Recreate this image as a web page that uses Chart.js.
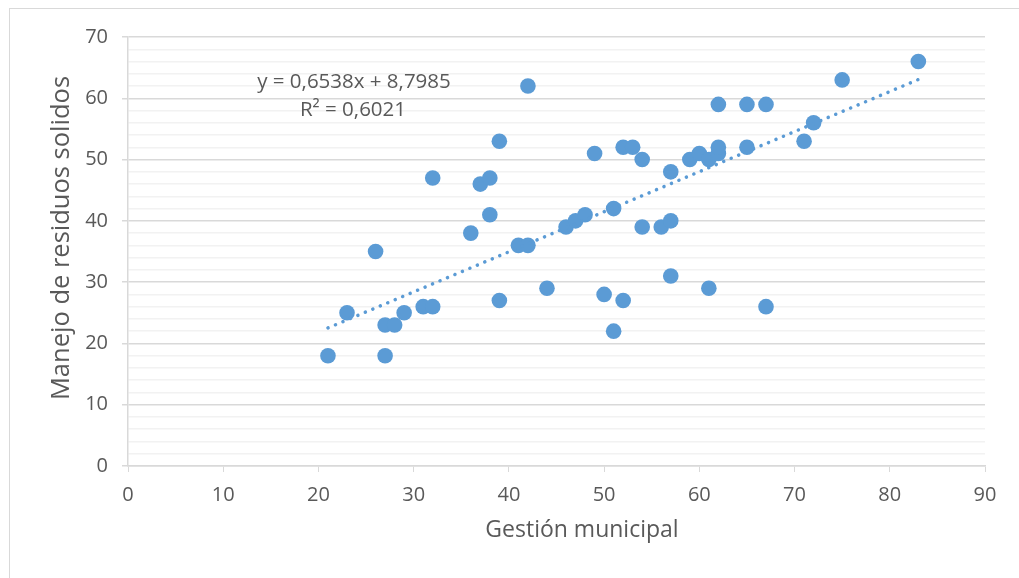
<!DOCTYPE html>
<html>
<head>
<meta charset="utf-8">
<script src="https://cdn.jsdelivr.net/npm/chart.js@4/dist/chart.umd.min.js"></script>
<style>
  html, body { margin: 0; padding: 0; background: #fff; overflow: hidden; }
  #marco { position: absolute; left: 9px; top: 8px; width: 1020px; height: 580px;
           border-left: 1px solid #d9d9d9; border-top: 1px solid #d9d9d9; }
  #grafico { position: absolute; left: 0; top: 0; }
</style>
</head>
<body>
<div id="marco"></div>
<canvas id="grafico" width="1019" height="578"></canvas>
<script>
// Gestión municipal (x) vs Manejo de residuos solidos (y)
const gestion = [21, 23, 26, 27, 27, 28, 29, 31, 32, 32, 36, 37, 38, 38, 39, 39, 41, 42, 42, 44,
                 46, 47, 48, 49, 50, 51, 51, 52, 53, 52, 54, 54, 56, 57, 57, 57, 59, 60, 61, 61,
                 62, 62, 62, 65, 67, 65, 67, 71, 72, 75, 83]
const residuos = [18, 25, 35, 23, 18, 23, 25, 26, 26, 47, 38, 46, 47, 41, 53, 27, 36, 36, 62, 29,
                  39, 40, 41, 51, 28, 42, 22, 52, 52, 27, 50, 39, 39, 40, 48, 31, 50, 51, 50, 29,
                  51, 52, 59, 59, 59, 52, 26, 53, 56, 63, 66]

const pendiente = 0.6538
const intercepto = 8.7985
const textoEcuacion = 'y = 0,6538x + 8,7985'
const textoR2 = 'R² = 0,6021'

const tituloX = 'Gestión municipal'
const tituloY = 'Manejo de residuos solidos'

const puntos = gestion.map((x, i) => ({ x, y: residuos[i] }))
const xMin = Math.min(...gestion)
const xMax = Math.max(...gestion)
const tendencia = [xMin, xMax].map(x => ({ x, y: pendiente * x + intercepto }))

const fuente = '"Open Sans", "Noto Sans", sans-serif'
const gris = '#595959'

// textos extra: títulos de ejes y ecuación de la tendencia
const textos = {
    id: 'textos',
    afterDraw(chart) {
        const c = chart.ctx
        c.save()
        c.fillStyle = gris
        c.textAlign = 'center'
        c.textBaseline = 'middle'
        c.font = '20.5px ' + fuente
        c.fillText(textoEcuacion, 354, 82)
        c.fillText(textoR2, 353, 110)
        c.font = '23px ' + fuente
        c.fillText(tituloX, 582, 530)
        c.font = '25.5px ' + fuente
        c.translate(62, 238)
        c.rotate(-Math.PI / 2)
        c.fillText(tituloY, 0, 0)
        c.restore()
    }
}

new Chart(document.getElementById('grafico'), {
    type: 'scatter',
    data: {
        datasets: [
            {
                type: 'line',
                data: tendencia,
                borderColor: '#5b9bd5',
                borderWidth: 3.5,
                borderDash: [0.1, 8],
                borderCapStyle: 'round',
                pointRadius: 0,
                fill: false,
                order: 0
            },
            {
                data: puntos,
                backgroundColor: '#5b9bd5',
                borderColor: '#5b9bd5',
                pointRadius: 7.8,
                pointHoverRadius: 7.8,
                borderWidth: 0,
                order: 1
            }
        ]
    },
    options: {
        responsive: false,
        animation: false,
        devicePixelRatio: 1,
        layout: { padding: { left: 0, top: 37, right: 34, bottom: 0 } },
        plugins: { legend: { display: false }, tooltip: { enabled: false } },
        scales: {
            x: {
                type: 'linear',
                min: 0,
                max: 90,
                afterFit: s => { s.height = 112 },
                border: { color: '#d9d9d9', width: 1.5 },
                grid: { display: true, drawOnChartArea: false, tickLength: 6, color: '#d9d9d9' },
                ticks: { stepSize: 10, padding: 11, maxRotation: 0, color: gris, font: { family: fuente, size: 20 } }
            },
            y: {
                min: 0,
                max: 70,
                afterFit: s => { s.width = 128 },
                border: { color: '#d9d9d9', width: 1.5 },
                grid: {
                    tickLength: 6,
                    color: c => (c.tick && c.tick.value % 10 === 0) ? '#d9d9d9' : '#f2f2f2',
                    lineWidth: 1.5,
                    tickColor: c => (c.tick && c.tick.value % 10 === 0) ? '#d9d9d9' : 'rgba(0,0,0,0)'
                },
                ticks: {
                    stepSize: 2,
                    padding: 14,
                    autoSkip: false,
                    color: gris,
                    font: { family: fuente, size: 20 },
                    callback: v => v % 10 === 0 ? v : ''
                }
            }
        }
    },
    plugins: [textos]
})
</script>
</body>
</html>
